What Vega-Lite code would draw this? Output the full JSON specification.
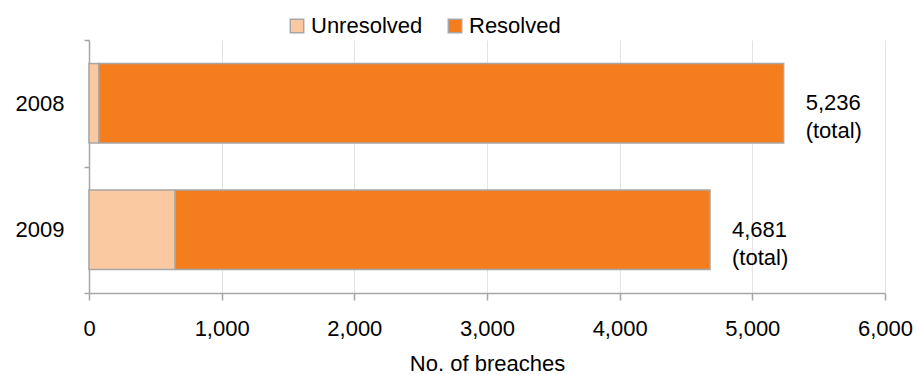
{
  "$schema": "https://vega.github.io/schema/vega-lite/v6.json",
  "width": 796,
  "height": 253,
  "autosize": {"type": "none"},
  "padding": {"left": 89, "top": 40, "right": 32, "bottom": 81},
  "background": "white",
  "config": {
    "view": {"stroke": null},
    "font": "Liberation Sans",
    "text": {"font": "Liberation Sans"}
  },
  "datasets": {
    "breaches": [
      {"year": "2008", "status": "Unresolved", "rank": 1, "count": 75},
      {"year": "2008", "status": "Resolved", "rank": 2, "count": 5161},
      {"year": "2009", "status": "Unresolved", "rank": 1, "count": 650},
      {"year": "2009", "status": "Resolved", "rank": 2, "count": 4031}
    ],
    "totals": [
      {"year": "2008", "total": 5236, "label": "5,236\n(total)"},
      {"year": "2009", "total": 4681, "label": "4,681\n(total)"}
    ]
  },
  "layer": [
    {
      "data": {"name": "breaches"},
      "mark": {"type": "bar", "stroke": "#a6a6a6", "strokeWidth": 1.5, "height": {"band": 0.63}},
      "encoding": {
        "y": {
          "field": "year",
          "type": "nominal",
          "scale": {"paddingInner": 0, "paddingOuter": 0},
          "axis": {
            "title": null,
            "tickBand": "extent",
            "ticks": true,
            "tickSize": 5,
            "tickColor": "#a6a6a6",
            "tickWidth": 1.5,
            "domainColor": "#a6a6a6",
            "domainWidth": 1.5,
            "labelPadding": 20,
            "labelFontSize": 22,
            "labelColor": "#000000",
            "grid": false
          }
        },
        "x": {
          "field": "count",
          "type": "quantitative",
          "stack": "zero",
          "scale": {"domain": [0, 6000], "nice": false},
          "axis": {
            "values": [0, 1000, 2000, 3000, 4000, 5000, 6000],
            "format": ",d",
            "title": "No. of breaches",
            "grid": true,
            "gridColor": "#e3e3e3",
            "gridWidth": 1,
            "domainColor": "#a6a6a6",
            "domainWidth": 1.5,
            "tickColor": "#a6a6a6",
            "tickWidth": 1.5,
            "tickSize": 7,
            "labelFontSize": 22,
            "labelPadding": 18,
            "labelColor": "#000000",
            "labelFlush": false,
            "titleFontSize": 22,
            "titleFontWeight": "normal",
            "titleColor": "#000000",
            "titleBaseline": "alphabetic",
            "titleY": 77
          }
        },
        "color": {
          "field": "status",
          "type": "nominal",
          "scale": {"domain": ["Unresolved", "Resolved"], "range": ["#FAC9A2", "#F47E1E"]},
          "legend": {
            "orient": "none",
            "legendX": 197,
            "legendY": -25,
            "direction": "horizontal",
            "title": null,
            "symbolType": "square",
            "symbolSize": 180,
            "symbolStrokeColor": "#a6a6a6",
            "symbolStrokeWidth": 1.5,
            "labelFontSize": 22,
            "labelColor": "#000000",
            "labelOffset": 3,
            "columnPadding": 21,
            "padding": 0
          }
        },
        "order": {"field": "rank", "type": "quantitative"}
      }
    },
    {
      "data": {"name": "totals"},
      "mark": {
        "type": "text",
        "align": "left",
        "baseline": "middle",
        "dx": 22,
        "fontSize": 22,
        "lineBreak": "\n",
        "lineHeight": 28,
        "color": "#000000"
      },
      "encoding": {
        "y": {"field": "year", "type": "nominal"},
        "x": {"field": "total", "type": "quantitative"},
        "text": {"field": "label"}
      }
    }
  ]
}
